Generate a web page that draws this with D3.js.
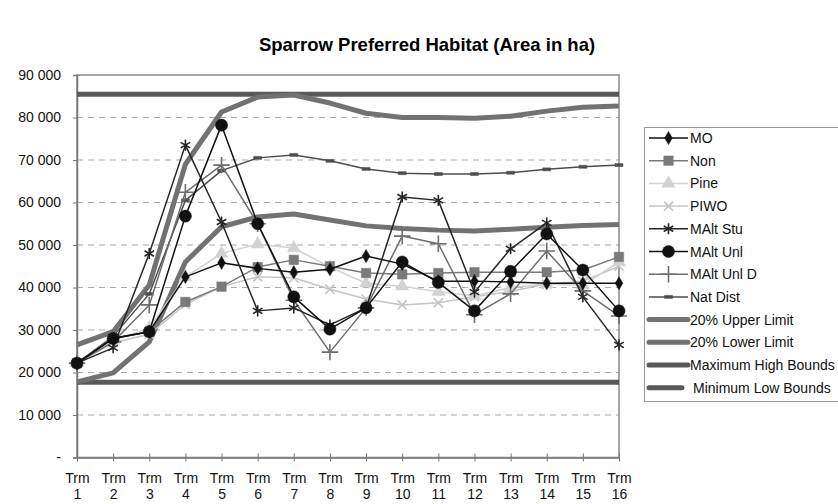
<!DOCTYPE html>
<html>
<head>
<meta charset="utf-8">
<script src="https://cdn.jsdelivr.net/npm/d3@7"></script>
<style>
  body { margin: 0; background: #fff; }
  svg { font-family: Arial, "Liberation Sans", sans-serif; }
</style>
</head>
<body>
<div class="chart"></div>
<script>
// categories
const categories = d3.range(1, 17).map(i => "Trm " + i);

// series values (ha)
const mo       = [22200, 28000, 29600, 42500, 45800, 44500, 43600, 44300, 47400, 45500, 41500, 41500, 41300, 41000, 41000, 41000];
const non      = [22200, 28100, 29600, 36600, 40200, 44800, 46500, 45000, 43400, 43100, 43400, 43600, 43600, 43600, 44100, 47200];
const pine     = [22200, 27500, 30500, 42500, 48000, 50200, 49300, 44800, 41000, 40300, 39000, 38000, 40000, 40800, 40500, 46000];
const piwo     = [22200, 27000, 29000, 36000, 40200, 42500, 42300, 39600, 37300, 35900, 36400, 37800, 39100, 40800, 41500, 45000];
const maltStu  = [22200, 25800, 48000, 73500, 55400, 34500, 35200, 31200, 35200, 61300, 60500, 38900, 49100, 55200, 37800, 26500];
const maltUnl  = [22200, 28000, 29600, 56800, 78200, 55000, 37800, 30200, 35200, 46000, 41200, 34500, 43800, 52600, 44100, 34500];
const maltUnlD = [22200, 27200, 35900, 62400, 68800, 55000, 37000, 24800, 35200, 52100, 50300, 33600, 38500, 48600, 39200, 33300];
const natDist  = [22200, 28500, 38500, 60500, 67500, 70500, 71200, 69800, 67900, 66900, 66700, 66700, 67000, 67800, 68400, 68800];
const upper    = [26500, 29600, 40600, 69000, 81300, 84800, 85300, 83400, 81000, 80000, 80000, 79800, 80300, 81500, 82400, 82700];
const lower    = [17800, 19900, 27200, 46000, 54300, 56600, 57300, 55900, 54500, 53900, 53500, 53300, 53700, 54200, 54600, 54800];
const maxHigh  = categories.map(() => 85500);
const minLow   = categories.map(() => 17700);

const yTicks = [0, 10000, 20000, 30000, 40000, 50000, 60000, 70000, 80000, 90000];

const width = 838, height = 504;

const svg = d3.create("svg")
    .attr("width", width)
    .attr("height", height)
    .attr("viewBox", `0 0 ${width} ${height}`);

const x = d3.scalePoint().domain(categories).range([77, 619]);
const y = d3.scaleLinear().domain([0, 90000]).range([457.5, 75]);

// titre
svg.append("text")
    .attr("x", 427).attr("y", 51)
    .attr("text-anchor", "middle")
    .style("font-size", "18.5px").style("font-weight", "bold")
    .text("Sparrow Preferred Habitat (Area in ha)");

// grille pointillée
svg.append("g")
    .selectAll("line")
    .data(yTicks.filter(d => d > 0 && d < 90000))
    .join("line")
    .attr("x1", x.range()[0]).attr("x2", x.range()[1])
    .attr("y1", d => y(d)).attr("y2", d => y(d))
    .attr("stroke", "#aaa").attr("stroke-width", 1.2)
    .attr("stroke-dasharray", "6,5");

// cadre du graphique
svg.append("rect")
    .attr("x", x.range()[0]).attr("y", y(90000))
    .attr("width", x.range()[1] - x.range()[0])
    .attr("height", y(0) - y(90000))
    .attr("fill", "none").attr("stroke", "#888").attr("stroke-width", 1.5);

// axe Y
const yAxis = d3.axisLeft(y)
    .tickValues(yTicks)
    .tickSize(4)
    .tickPadding(12)
    .tickFormat(d => d === 0 ? "-" : d3.format(",")(d).replace(",", " "));
const gy = svg.append("g")
    .attr("transform", `translate(${x.range()[0]},0)`)
    .call(yAxis);
gy.select(".domain").attr("stroke", "#777").attr("stroke-width", 1.5);
gy.selectAll(".tick line").attr("stroke", "#777");
gy.selectAll("text").style("font-size", "14px").attr("fill", "#111");

// axe X
const xAxis = d3.axisBottom(x).tickSizeInner(4).tickSizeOuter(0).tickFormat("");
const gx = svg.append("g")
    .attr("transform", `translate(0,${y(0)})`)
    .call(xAxis);
gx.select(".domain").attr("stroke", "#777").attr("stroke-width", 1.5);
gx.selectAll(".tick line").attr("stroke", "#777").attr("y1", -4);
gx.selectAll(".tick").append("text")
    .attr("fill", "#111")
    .attr("text-anchor", "middle")
    .style("font-size", "14px")
    .each(function(d) {
        const parts = d.split(" ");
        const t = d3.select(this);
        t.append("tspan").attr("x", 0).attr("y", 25).text(parts[0]);
        t.append("tspan").attr("x", 0).attr("y", 41).text(parts[1]);
    });

// séries
const sym = (type, size) => d3.symbol().type(type).size(size)();
const dashPath = "M-4,-1.5h8v3h-8Z";

const series = [
    { name: "Minimum Low Bounds",  values: minLow,   color: "#595959", width: 5 },
    { name: "Maximum High Bounds", values: maxHigh,  color: "#595959", width: 5 },
    { name: "20% Lower Limit",     values: lower,    color: "#727272", width: 5 },
    { name: "20% Upper Limit",     values: upper,    color: "#727272", width: 5 },
    { name: "Nat Dist",   values: natDist,  color: "#4d4d4d", width: 1.5, marker: dashPath, fill: "#4d4d4d" },
    { name: "PIWO",       values: piwo,     color: "#c4c4c4", width: 1.5, marker: sym(d3.symbolTimes, 55), stroke: "#c4c4c4" },
    { name: "Pine",       values: pine,     color: "#d2d2d2", width: 1.5, marker: sym(d3.symbolTriangle, 75), fill: "#d2d2d2" },
    { name: "Non",        values: non,      color: "#7a7a7a", width: 1.5, marker: sym(d3.symbolSquare, 90), fill: "#7a7a7a" },
    { name: "MAlt Unl D", values: maltUnlD, color: "#6e6e6e", width: 1.5, marker: sym(d3.symbolPlus, 90), stroke: "#6e6e6e" },
    { name: "MO",         values: mo,       color: "#111",    width: 1.5, marker: sym(d3.symbolDiamond, 50), fill: "#111" },
    { name: "MAlt Stu",   values: maltStu,  color: "#262626", width: 1.5, marker: sym(d3.symbolAsterisk, 85), stroke: "#262626" },
    { name: "MAlt Unl",   values: maltUnl,  color: "#111",    width: 1.5, marker: sym(d3.symbolCircle, 115), fill: "#111" }
];

const line = d3.line()
    .x((d, i) => x(categories[i]))
    .y(d => y(d));

series.forEach(s => {
    svg.append("path")
        .datum(s.values)
        .attr("d", line)
        .attr("fill", "none")
        .attr("stroke", s.color)
        .attr("stroke-width", s.width)
        .attr("stroke-linejoin", "round");
    if (s.marker) {
        svg.append("g")
            .selectAll("path")
            .data(s.values)
            .join("path")
            .attr("transform", (d, i) => `translate(${x(categories[i])},${y(d)})`)
            .attr("d", s.marker)
            .attr("fill", s.fill || "none")
            .attr("stroke", s.stroke || s.fill)
            .attr("stroke-width", s.stroke ? 1.6 : 0.5);
    }
});

// légende
const legendOrder = ["MO", "Non", "Pine", "PIWO", "MAlt Stu", "MAlt Unl", "MAlt Unl D", "Nat Dist",
    "20% Upper Limit", "20% Lower Limit", "Maximum High Bounds", "Minimum Low Bounds"];

const legend = svg.append("g");
legend.append("rect")
    .attr("x", 644.5).attr("y", 127.5)
    .attr("width", 220).attr("height", 274)
    .attr("fill", "#fff").attr("stroke", "#999");

legendOrder.forEach((name, i) => {
    const s = series.find(d => d.name === name);
    const ly = 138 + i * 22.7;
    const g = legend.append("g").attr("transform", `translate(0,${ly})`);
    if (s.marker) {
        g.append("line")
            .attr("x1", 649).attr("x2", 688)
            .attr("stroke", s.color).attr("stroke-width", s.width);
        g.append("path")
            .attr("transform", "translate(668.5,0)")
            .attr("d", s.marker)
            .attr("fill", s.fill || "none")
            .attr("stroke", s.stroke || s.fill)
            .attr("stroke-width", s.stroke ? 1.6 : 0.5);
    } else {
        g.append("line")
            .attr("x1", 649).attr("x2", name === "Minimum Low Bounds" ? 682 : 688)
            .attr("stroke", s.color).attr("stroke-width", s.width)
            .attr("stroke-linecap", "round");
    }
    g.append("text")
        .attr("x", name === "Minimum Low Bounds" ? 693 : 690)
        .attr("y", 5)
        .style("font-size", "14px")
        .attr("fill", "#111")
        .text(name);
});

document.querySelector(".chart").appendChild(svg.node());
</script>
</body>
</html>
